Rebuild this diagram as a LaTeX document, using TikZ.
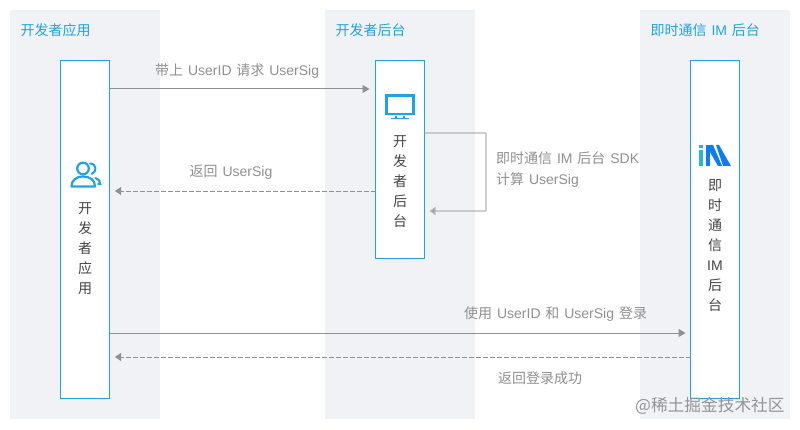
\documentclass[tikz,border=0pt]{standalone}
\usepackage{fontspec}
\setmainfont[WordSpace=1.25]{Liberation Sans}
\newfontfamily\cn{Noto Sans CJK SC}
\usetikzlibrary{arrows.meta}
\definecolor{panelbg}{HTML}{F0F2F6}
\definecolor{accent}{HTML}{1CA3E8}
\definecolor{linegray}{HTML}{8E9096}
\definecolor{loopgray}{HTML}{B2B4B8}
\definecolor{labelgray}{HTML}{909090}
\definecolor{bodytext}{HTML}{444444}
\definecolor{iconblue}{HTML}{0F7BF0}
\definecolor{iconteal}{HTML}{22B8D8}
\tikzset{
  panel/.style={fill=panelbg,draw=none,minimum width=150pt,minimum height=409pt,inner sep=0pt,outer sep=0pt,anchor=north west},
  lifebox/.style={fill=white,draw=accent,line width=1.1pt,minimum width=49pt,inner sep=0pt,outer sep=0pt,anchor=north west},
  paneltitle/.style={text=accent,font=\fontsize{14}{16}\selectfont,inner sep=0pt,anchor=west},
  msg/.style={text=labelgray,font=\fontsize{14}{21}\selectfont,inner sep=0pt,align=left},
  vert/.style={text=bodytext,font=\fontsize{14}{20}\selectfont,inner sep=0pt,align=center,anchor=north},
  solidarrow/.style={draw=linegray,line width=1pt,-{Triangle[length=7pt,width=8pt,fill=linegray]}},
  dasharrow/.style={draw=linegray,line width=.8pt,dash pattern=on 4.5pt off 2.5pt,-{Triangle[length=6pt,width=8pt,fill=linegray]}},
  looparrow/.style={draw=loopgray,line width=1.4pt,rounded corners=.5pt,-{Triangle[length=6pt,width=8pt,fill=linegray]}},
  iconline/.style={draw=accent,line width=2.2pt}
}
\begin{document}
\begin{tikzpicture}[x=1pt,y=-1pt]
\useasboundingbox[fill=white] (0,0) rectangle (800,430);
% panels
\node[panel] (p1) at (10,10) {};
\node[panel] (p2) at (325,10) {};
\node[panel] (p3) at (640,10) {};
\node[paneltitle] (t1) at (20.5,30) {\cn 开发者应用};
\node[paneltitle] (t2) at (335.5,30) {\cn 开发者后台};
\node[paneltitle] (t3) at (650.5,30) {{\cn 即时通信} IM {\cn 后台}};
% boxes
\node[lifebox,minimum height=338pt] (app) at (60.5,60.5) {};
\node[lifebox,minimum height=198pt] (srv) at (375.5,60.5) {};
\node[lifebox,minimum height=338pt] (im) at (690.5,60.5) {};
% vertical labels
\node[vert] (v1) at (85,202.5) {{\cn 开}\\{\cn 发}\\{\cn 者}\\{\cn 应}\\{\cn 用}};
\node[vert] (v2) at (400,135) {{\cn 开}\\{\cn 发}\\{\cn 者}\\{\cn 后}\\{\cn 台}};
\node[vert] (v3) at (715,179.5) {{\cn 即}\\{\cn 时}\\{\cn 通}\\{\cn 信}\\IM\\{\cn 后}\\{\cn 台}};
% row guides
\coordinate (r1) at (0,89);
\coordinate (r2) at (0,191);
\coordinate (r3) at (0,333);
\coordinate (r4) at (0,357);
\coordinate (la) at (486,133);
\coordinate (lb) at (486,211);
% connectors
\draw[solidarrow,shorten >=6pt] (app.east |- r1) -- (srv.west |- r1);
\draw[dasharrow,shorten >=5.5pt] (srv.west |- r2) -- (app.east |- r2);
\draw[looparrow,shorten >=5pt] (srv.east |- la) -- (la) -- (lb) -- (srv.east |- lb);
\draw[solidarrow,shorten >=5pt] (app.east |- r3) -- (im.west |- r3);
\draw[dasharrow,shorten >=5.5pt] (im.west |- r4) -- (app.east |- r4);
% labels
\node[msg,anchor=west] (m1) at (155,70.7) {{\cn 带上} UserID {\cn 请求} UserSig};
\node[msg,anchor=west] (m2) at (189.5,172.5) {{\cn 返回} UserSig};
\node[msg,anchor=north west] (m3) at (496,151) {{\cn 即时通信} IM {\cn 后台} SDK\\{\cn 计算} UserSig};
\node[msg,anchor=west] (m4) at (464,313.7) {{\cn 使用} UserID {\cn 和} UserSig {\cn 登录}};
\node[msg,anchor=west] (m5) at (498,378) {\cn 返回登录成功};
% person icon
\draw[iconline] (83,168.5) circle (5.8);
\draw[iconline,line join=round] (71.5,186.5) .. controls (71.5,180) and (76.5,176.5) .. (83,176.5) .. controls (90,176.5) and (95,180) .. (95,186.5) -- cycle;
\draw[accent,line width=2pt,line cap=round] (90,163.5) .. controls (96.5,163.5) and (97.5,172) .. (91.5,174);
\draw[accent,line width=2pt,line cap=round] (95.5,178) .. controls (98.5,179) and (100.3,181) .. (100.3,184) -- (98,184);
% monitor icon
\draw[accent,line width=2.6pt] (386.3,95.3) rectangle (413.7,114);
\fill[accent] (385,113) rectangle (415,115.5);
\fill[accent] (391,118) rectangle (409,119.5);
\fill[accent] (395,116) rectangle (397,118);
\fill[accent] (403,116) rectangle (405,118);
% IM logo
\fill[iconteal] (699,150) rectangle (702.7,166);
\fill[iconteal] (699,145.5) rectangle (702.7,148.5);
\fill[iconblue] (706,145) -- (710,145) -- (710,166) -- (706,166) -- cycle;
\fill[iconblue] (710,145) -- (713,145) -- (722,166) -- (718,166) -- (710,152) -- cycle;
\fill[iconblue] (716,145) -- (719,145) -- (731,166) -- (723,166) -- cycle;
% watermark
\node[text=black!42,font=\fontsize{16.7}{18}\selectfont\cn,inner sep=0pt,anchor=west] (wm) at (635,406) {@稀土掘金技术社区};
\end{tikzpicture}
\end{document}
